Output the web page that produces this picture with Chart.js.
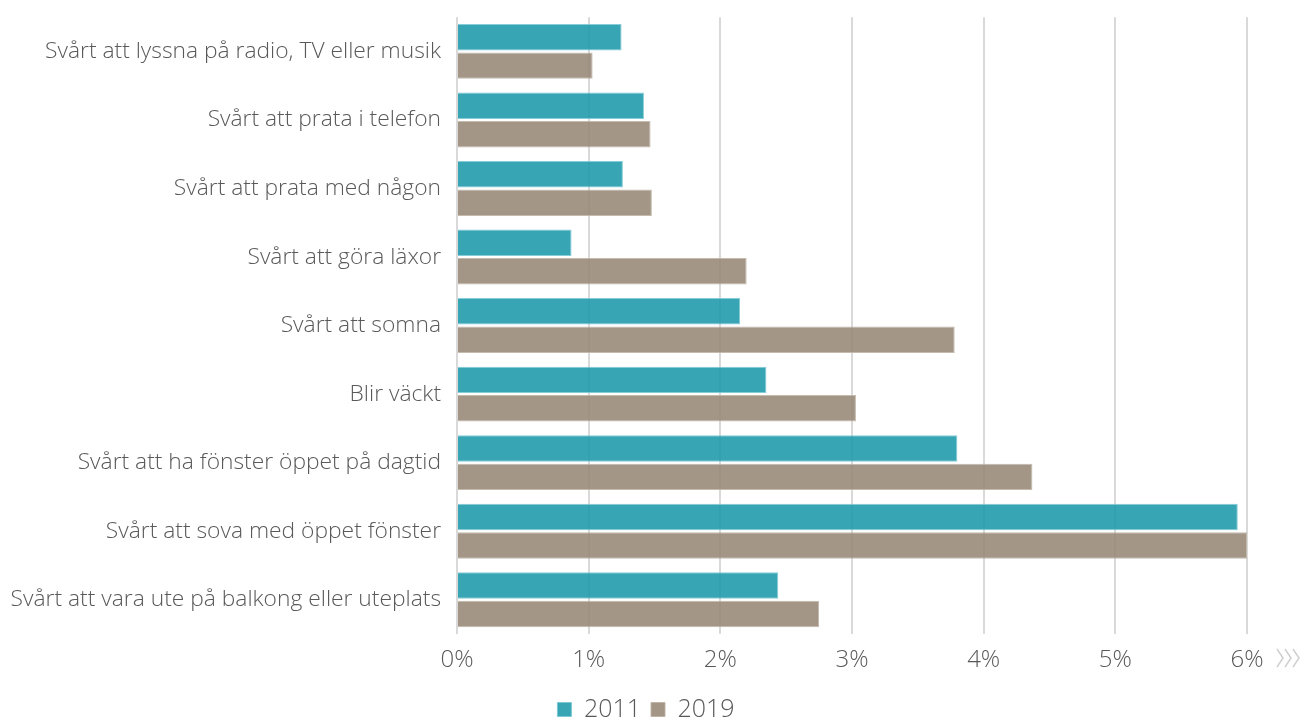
<!DOCTYPE html>
<html>
<head>
<meta charset="utf-8">
<script src="https://cdn.jsdelivr.net/npm/chart.js@4"></script>
<style>
  html, body { margin: 0; padding: 0; background: #fff; }
  #wrap { width: 1302px; height: 720px; }
</style>
</head>
<body>
<div id="wrap"><canvas id="noiseChart"></canvas></div>
<script>
const categories = [
  'Svårt att lyssna på radio, TV eller musik',
  'Svårt att prata i telefon',
  'Svårt att prata med någon',
  'Svårt att göra läxor',
  'Svårt att somna',
  'Blir väckt',
  'Svårt att ha fönster öppet på dagtid',
  'Svårt att sova med öppet fönster',
  'Svårt att vara ute på balkong eller uteplats',
];
const values2011 = [1.25, 1.42, 1.26, 0.87, 2.15, 2.35, 3.80, 5.93, 2.44];
const values2019 = [1.03, 1.47, 1.48, 2.20, 3.78, 3.03, 4.37, 6.00, 2.75];
const xTicks = [0, 1, 2, 3, 4, 5, 6];

const textColor = '#595959';
const fontFamily = '"Open Sans", "Noto Sans", sans-serif';

// little ">>>" after the last tick, axis is cut at 6%
const chevrons = {
  id: 'chevrons',
  afterDraw(chart) {
    const { ctx, scales: { x } } = chart;
    const px = x.getPixelForValue(6) + 30;
    const py = x.top + 24;
    ctx.save();
    ctx.strokeStyle = '#cfcfcf';
    ctx.lineWidth = 1.5;
    for (let i = 0; i < 3; i++) {
      const cx = px + i * 8;
      ctx.beginPath();
      ctx.moveTo(cx, py - 9);
      ctx.lineTo(cx + 6, py);
      ctx.lineTo(cx, py + 9);
      ctx.stroke();
    }
    ctx.restore();
  },
};

const ctx = document.getElementById('noiseChart').getContext('2d');
new Chart(ctx, {
  type: 'bar',
  data: {
    labels: categories,
    datasets: [
      {
        label: '2011',
        data: values2011,
        backgroundColor: 'rgba(28, 152, 171, 0.88)',
        borderColor: 'rgba(120, 200, 212, 0.9)',
        borderWidth: 1,
        barPercentage: 0.93,
        categoryPercentage: 0.83,
      },
      {
        label: '2019',
        data: values2019,
        backgroundColor: 'rgba(150, 135, 117, 0.88)',
        borderColor: 'rgba(190, 178, 165, 0.9)',
        borderWidth: 1,
        barPercentage: 0.93,
        categoryPercentage: 0.83,
      },
    ],
  },
  options: {
    indexAxis: 'y',
    responsive: true,
    maintainAspectRatio: false,
    animation: false,
    layout: { padding: { top: 7, right: 10, left: 0, bottom: -12 } },
    scales: {
      x: {
        min: 0,
        max: 6,
        afterBuildTicks(scale) {
          scale.ticks = xTicks.map(v => ({ value: v }));
        },
        afterFit(scale) {
          scale.height = 53;
        },
        grid: {
          color: '#d9d9d9',
          lineWidth: 2,
          drawTicks: false,
        },
        border: { display: false },
        ticks: {
          padding: 12,
          color: textColor,
          font: { family: fontFamily, size: 24, weight: 300 },
          callback: v => v + '%',
        },
      },
      y: {
        afterFit(scale) {
          scale.width = 457;
        },
        grid: { display: false, drawTicks: false },
        border: { display: false },
        ticks: {
          padding: 16,
          color: textColor,
          font: { family: fontFamily, size: 22.8, weight: 300, lineHeight: 0.1 },
        },
      },
      // empty strip on the right so the plot ends at 6% but the legend stays centred
      spacer: {
        type: 'linear',
        position: 'right',
        grid: { display: false, drawTicks: false },
        border: { display: false },
        ticks: { display: false },
        afterFit(scale) {
          scale.width = 45;
        },
      },
    },
    plugins: {
      legend: {
        position: 'bottom',
        labels: {
          color: textColor,
          font: { family: fontFamily, size: 25, weight: 300, lineHeight: 1 },
          boxWidth: 14,
          boxHeight: 14,
          padding: 10,
        },
      },
      tooltip: { enabled: false },
    },
  },
  plugins: [chevrons],
});
</script>
</body>
</html>
